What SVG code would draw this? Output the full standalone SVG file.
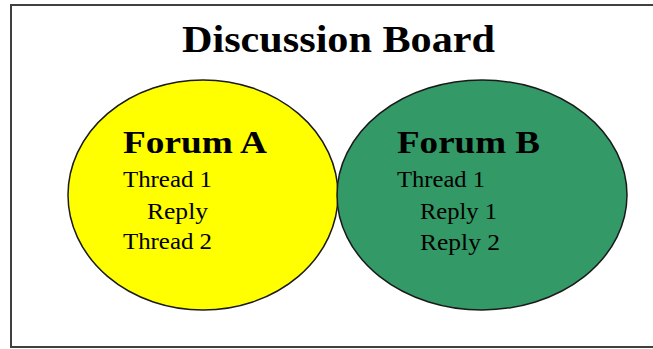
<svg xmlns="http://www.w3.org/2000/svg" width="653" height="349" viewBox="0 0 653 349">
<style>
.frame{fill:#fff;stroke:#404040;stroke-width:2}
.ell{stroke:#1a1a1a;stroke-width:1.5}
.t{font-family:"Liberation Serif","Times New Roman",serif;fill:#000}
.title{font-size:38px;font-weight:bold}
.head{font-size:32px;font-weight:bold}
.item{font-size:24px}
</style>
<rect x="0" y="0" width="653" height="349" fill="#fff"/>
<rect class="frame" x="11" y="5" width="700" height="342"/>
<text class="t title" x="182" y="52" textLength="313" lengthAdjust="spacingAndGlyphs">Discussion Board</text>
<g id="forumA">
<ellipse class="ell" cx="203" cy="195" rx="135" ry="115" fill="#ffff00"/>
<text class="t head" x="123" y="153" textLength="144" lengthAdjust="spacingAndGlyphs">Forum A</text>
<text class="t item" x="123" y="187" textLength="89" lengthAdjust="spacingAndGlyphs">Thread 1</text>
<text class="t item" x="147" y="219" textLength="61" lengthAdjust="spacingAndGlyphs">Reply</text>
<text class="t item" x="123" y="249" textLength="89" lengthAdjust="spacingAndGlyphs">Thread 2</text>
</g>
<g id="forumB">
<ellipse class="ell" cx="482" cy="195" rx="145" ry="115" fill="#339966"/>
<text class="t head" x="397" y="153" textLength="143" lengthAdjust="spacingAndGlyphs">Forum B</text>
<text class="t item" x="397" y="187" textLength="88" lengthAdjust="spacingAndGlyphs">Thread 1</text>
<text class="t item" x="420" y="219" textLength="77" lengthAdjust="spacingAndGlyphs">Reply 1</text>
<text class="t item" x="420" y="250" textLength="80" lengthAdjust="spacingAndGlyphs">Reply 2</text>
</g>
<g id="connectors"/>
</svg>
